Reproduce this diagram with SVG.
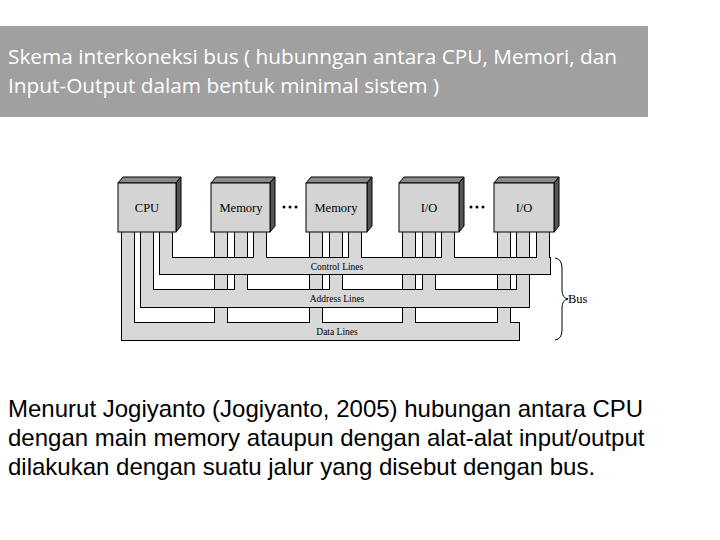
<svg xmlns="http://www.w3.org/2000/svg" width="720" height="540" viewBox="0 0 720 540">
<style>
.hdr{font-family:"Open Sans","Liberation Sans",sans-serif;font-size:20.8px;fill:#fff}
.body{font-family:"Liberation Sans",Arial,sans-serif;font-size:24px;fill:#000}
.lbl{font-family:"Liberation Serif",serif;font-size:12.5px;fill:#000}
.bl{font-family:"Liberation Serif",serif;font-size:9.5px;fill:#000}
.face{fill:#d4d4d4;stroke:#000;stroke-width:1}
.top{fill:#8a8a8a;stroke:#000;stroke-width:1}
.side{fill:#555;stroke:#000;stroke-width:1}
.o{fill:#000}
.f{fill:#d8d8d8}
</style>
<rect width="720" height="540" fill="#fff"/>
<rect x="0" y="26" width="648" height="91" fill="#a0a0a0"/>
<text class="hdr" x="8" y="64">Skema interkoneksi bus ( hubunngan antara CPU, Memori, dan</text>
<text class="hdr" x="8" y="93">Input-Output dalam bentuk minimal sistem )</text>
<g id="connectors">
<g id="data">
<g class="o">
<rect x="121" y="228" width="14" height="113"/><rect x="121" y="322" width="399" height="19"/>
<rect x="214" y="228" width="14" height="113"/><rect x="309" y="228" width="14" height="113"/><rect x="402" y="228" width="14" height="113"/><rect x="497" y="228" width="14" height="113"/>
</g>
<g class="f">
<rect x="122" y="229" width="12" height="111"/><rect x="122" y="323" width="397" height="17"/>
<rect x="215" y="229" width="12" height="111"/><rect x="310" y="229" width="12" height="111"/><rect x="403" y="229" width="12" height="111"/><rect x="498" y="229" width="12" height="111"/>
</g>
</g>
<g id="address">
<g class="o">
<rect x="140" y="228" width="14" height="80"/><rect x="140" y="289" width="389" height="19"/>
<rect x="234" y="228" width="14" height="80"/><rect x="329" y="228" width="14" height="80"/><rect x="422" y="228" width="14" height="80"/><rect x="516" y="228" width="14" height="80"/>
</g>
<g class="f">
<rect x="141" y="229" width="12" height="78"/><rect x="141" y="290" width="387" height="17"/>
<rect x="235" y="229" width="12" height="78"/><rect x="330" y="229" width="12" height="78"/><rect x="423" y="229" width="12" height="78"/><rect x="517" y="229" width="12" height="78"/>
</g>
</g>
<g id="control">
<g class="o">
<rect x="159" y="228" width="14" height="47"/><rect x="159" y="257" width="392" height="18"/>
<rect x="253" y="228" width="14" height="47"/><rect x="348" y="228" width="14" height="47"/><rect x="441" y="228" width="14" height="47"/><rect x="536" y="228" width="14" height="47"/>
</g>
<g class="f">
<rect x="160" y="229" width="12" height="45"/><rect x="160" y="258" width="390" height="16"/>
<rect x="254" y="229" width="12" height="45"/><rect x="349" y="229" width="12" height="45"/><rect x="442" y="229" width="12" height="45"/><rect x="537" y="229" width="12" height="45"/>
</g>
</g>
<text class="bl" x="337" y="270" text-anchor="middle">Control Lines</text>
<text class="bl" x="337" y="302" text-anchor="middle">Address Lines</text>
<text class="bl" x="337" y="335" text-anchor="middle">Data Lines</text>
<path d="M555,258 Q562,259 562,268 L562,290 Q562,298 568,299 Q562,300 562,308 L562,330 Q562,339 555,340" fill="none" stroke="#000" stroke-width="1"/>
<text class="lbl" x="568" y="303">Bus</text>
</g>
<g id="cpu"><polygon class="top" points="118,183 123,177 181,177 176,183"/><polygon class="side" points="176,183 181,177 181,226 176,232"/><rect class="face" x="118" y="183" width="58" height="49"/><text class="lbl" x="147" y="212" text-anchor="middle">CPU</text></g>
<g id="mem1"><polygon class="top" points="211,183 216,177 275,177 270,183"/><polygon class="side" points="270,183 275,177 275,226 270,232"/><rect class="face" x="211" y="183" width="59" height="49"/><text class="lbl" x="241" y="212" text-anchor="middle">Memory</text></g>
<g id="mem2"><polygon class="top" points="306,183 311,177 372,177 367,183"/><polygon class="side" points="367,183 372,177 372,226 367,232"/><rect class="face" x="306" y="183" width="61" height="49"/><text class="lbl" x="336" y="212" text-anchor="middle">Memory</text></g>
<g id="io1"><polygon class="top" points="399,183 404,177 464,177 459,183"/><polygon class="side" points="459,183 464,177 464,226 459,232"/><rect class="face" x="399" y="183" width="60" height="49"/><text class="lbl" x="429" y="212" text-anchor="middle">I/O</text></g>
<g id="io2"><polygon class="top" points="494,183 499,177 559,177 554,183"/><polygon class="side" points="554,183 559,177 559,226 554,232"/><rect class="face" x="494" y="183" width="60" height="49"/><text class="lbl" x="524" y="212" text-anchor="middle">I/O</text></g>
<g fill="#000"><circle cx="284" cy="207" r="1.5"/><circle cx="290" cy="207" r="1.5"/><circle cx="296" cy="207" r="1.5"/><circle cx="471" cy="207" r="1.5"/><circle cx="477" cy="207" r="1.5"/><circle cx="483" cy="207" r="1.5"/></g>
<text class="body" x="8" y="417">Menurut Jogiyanto (Jogiyanto, 2005) hubungan antara CPU</text>
<text class="body" x="8" y="446">dengan main memory ataupun dengan alat-alat input/output</text>
<text class="body" x="8" y="475">dilakukan dengan suatu jalur yang disebut dengan bus.</text>
</svg>
